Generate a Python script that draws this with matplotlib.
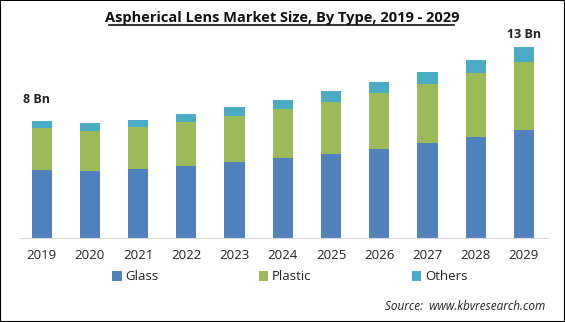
import numpy as np
import matplotlib.pyplot as plt
from matplotlib.patches import Rectangle

# DATA (Bn USD)
years = ["2019", "2020", "2021", "2022", "2023", "2024",
         "2025", "2026", "2027", "2028", "2029"]
glass = [4.65, 4.56, 4.71, 4.90, 5.17, 5.44, 5.71, 6.05, 6.48, 6.89, 7.35]
plastic = [2.84, 2.72, 2.84, 2.99, 3.13, 3.33, 3.54, 3.81, 3.99, 4.33, 4.63]
others = [0.48, 0.54, 0.48, 0.56, 0.61, 0.61, 0.77, 0.75, 0.84, 0.90, 1.04]
series_names = ["Glass", "Plastic", "Others"]
end_labels = {0: "8 Bn", 10: "13 Bn"}

COLORS = ["#4F81BD", "#9BBB59", "#4BACC6"]
FONT = "Open Sans"

fig = plt.figure(figsize=(5.65, 3.22), dpi=100)
ax = fig.add_axes([20 / 565, 1 - 238 / 322, 528 / 565, 200 / 322])

x = np.arange(len(years))
g = np.array(glass)
p = np.array(plastic)
o = np.array(others)
w = 0.42

bars = []
bars.append(ax.bar(x, g, w, color=COLORS[0], label=series_names[0]))
bars.append(ax.bar(x, p, w, bottom=g, color=COLORS[1], label=series_names[1]))
bars.append(ax.bar(x, o, w, bottom=g + p, color=COLORS[2], label=series_names[2]))

total = g + p + o
# label offsets (in Bn) above the bar tops, as in the reference
offsets = {0: (-0.1, 1.0), 10: (0.0, 0.35)}
for i, txt in end_labels.items():
    dx, dy = offsets[i]
    ax.text(x[i] + dx, total[i] + dy, txt, ha="center", va="bottom",
            fontsize=9, fontweight="bold", family=FONT, color="#222222")

ax.set_xlim(-0.45, 10.5)
ax.set_ylim(0, 13.6)
ax.set_yticks([])
ax.set_xticks(x)
ax.set_xticklabels(years, family=FONT, fontsize=9.5, color="#222222")
ax.tick_params(axis="x", length=0, pad=8)
for side in ["top", "right", "left"]:
    ax.spines[side].set_visible(False)
ax.spines["bottom"].set_color("#d9d9d9")

fig.text(282 / 565, 1 - 22 / 322, "Aspherical Lens Market Size, By Type, 2019 - 2029",
         ha="center", va="baseline", fontsize=10.5, fontweight="bold",
         family=FONT, color="#111111")
# underline
fig.add_artist(plt.Line2D([109 / 565, 454 / 565], [1 - 25 / 322, 1 - 25 / 322],
                          color="#111111", linewidth=1.2))

leg = fig.legend(handles=bars, labels=series_names, loc="center",
                 bbox_to_anchor=(290 / 565, 1 - 277 / 322), ncol=3,
                 frameon=False, prop={"family": FONT, "size": 9.5},
                 handlelength=0.7, handleheight=0.7, handletextpad=0.3,
                 columnspacing=7.6)
for t in leg.get_texts():
    t.set_color("#222222")

fig.text(545 / 565, 1 - 307 / 322, "Source:  www.kbvresearch.com", ha="right",
         va="center", fontsize=8.5, style="italic", family=FONT, color="#222222")

fig.add_artist(Rectangle((0, 0), 1, 1, transform=fig.transFigure, fill=False,
                         edgecolor="black", linewidth=1.5))

plt.savefig("out.png", dpi=100)
